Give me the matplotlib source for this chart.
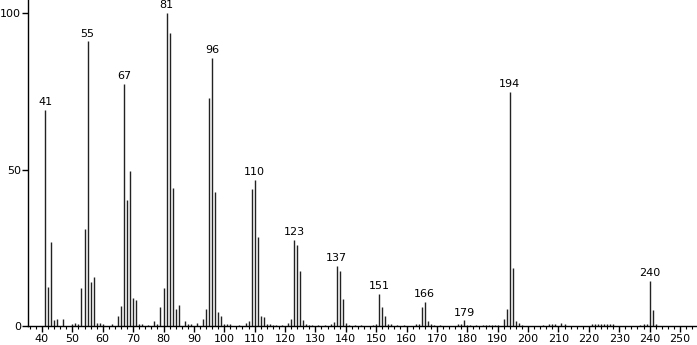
import matplotlib.pyplot as plt
import matplotlib.ticker as mticker

# m/z values and relative intensities
mz = [41, 42, 43, 44, 45, 47, 50, 51, 52, 53, 54, 55, 56, 57, 58, 59, 60, 63,
      65, 66, 67, 68, 69, 70, 71, 72, 73, 75, 77, 78, 79, 80, 81, 82, 83, 84,
      85, 87, 88, 89, 91, 93, 94, 95, 96, 97, 98, 99, 100, 101, 102, 105, 107,
      108, 109, 110, 111, 112, 113, 114, 115, 116, 117, 119, 121, 122, 123,
      124, 125, 126, 127, 128, 129, 131, 133, 135, 136, 137, 138, 139, 140,
      141, 143, 145, 149, 150, 151, 152, 153, 154, 155, 157, 159, 163, 164,
      165, 166, 167, 168, 169, 171, 177, 178, 179, 180, 181, 183, 185, 186,
      187, 188, 189, 190, 192, 193, 194, 195, 196, 197, 198, 205, 207, 208,
      209, 211, 212, 221, 222, 223, 224, 225, 226, 227, 228, 237, 238, 239,
      240, 241, 242]
intensity = [69, 12.5, 27, 1.8, 2.2, 2.2, 0.6, 1, 0.6, 12, 31, 91, 14.2, 15.6,
             1, 1.1, 0.6, 0.6, 3.3, 6.5, 77.5, 40.2, 49.6, 8.8, 8.2, 0.6, 0.6,
             0.4, 1.7, 0.6, 6.1, 12, 100, 93.8, 44, 5.4, 6.6, 1.5, 0.5, 0.5,
             0.8, 2.1, 5.5, 73, 85.8, 42.8, 4.4, 3.2, 0.5, 0.5, 0.5, 0.4, 0.8,
             1.6, 43.8, 46.8, 28.6, 3.3, 2.8, 0.5, 0.5, 0.4, 0.4, 0.4, 1, 2.2,
             27.6, 25.8, 17.6, 1.8, 0.6, 0.4, 0.4, 0.3, 0.3, 0.6, 1.4, 19.2,
             17.6, 8.7, 1, 0.4, 0.4, 0.3, 0.4, 0.5, 10.3, 6, 3.2, 0.5, 0.5,
             0.4, 0.3, 0.5, 0.6, 6.1, 7.6, 1.5, 0.5, 0.3, 0.3, 0.5, 0.7, 1.8,
             0.4, 0.4, 0.4, 0.4, 0.4, 0.4, 0.4, 0.4, 0.3, 2.1, 5.4, 74.8, 18.6,
             1.6, 0.9, 0.4, 0.4, 0.5, 0.5, 0.5, 1, 0.5, 0.5, 0.5, 0.5, 0.5,
             0.5, 0.5, 0.5, 0.5, 0.4, 0.5, 0.5, 14.4, 5, 0.5]

labelled = [41, 55, 67, 81, 96, 110, 123, 137, 151, 166, 179, 194, 240]

fig = plt.figure(figsize=(6.97, 3.45), dpi=100)
ax = fig.add_axes([28 / 697, 19 / 345, 669 / 697, 326 / 345])

ax.vlines(mz, 0, intensity, color="#222222", linewidth=1.0)

for m in labelled:
    h = intensity[mz.index(m)]
    ax.annotate(str(m), (m, h), xytext=(0, 2), textcoords="offset points",
                ha="center", va="bottom", fontsize=8, color="black")

ax.set_xlim(35.4, 255.6)
ax.set_ylim(0, 104.2)

for side in ["top", "right"]:
    ax.spines[side].set_visible(False)
ax.spines["left"].set_linewidth(1.0)
ax.spines["bottom"].set_linewidth(1.0)

ax.xaxis.set_major_locator(mticker.MultipleLocator(10))
ax.xaxis.set_minor_locator(mticker.MultipleLocator(2))
ax.set_xticks(range(40, 251, 10))
ax.set_yticks([0, 50, 100])

ax.tick_params(axis="x", which="major", direction="out", length=4, width=1,
               labelsize=8, pad=2)
ax.tick_params(axis="x", which="minor", direction="out", length=2.5, width=0.8)
ax.tick_params(axis="y", direction="out", length=4, width=1, labelsize=8, pad=1)

fig.savefig("out.png", dpi=100)
